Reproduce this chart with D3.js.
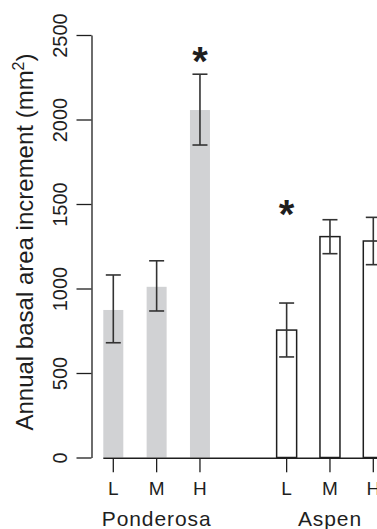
<!DOCTYPE html>
<html>
<head>
<meta charset="utf-8">
<script src="https://cdn.jsdelivr.net/npm/d3@7"></script>
<style>
  html, body { margin: 0; padding: 0; background: #fff; }
  svg { display: block; font-family: "Liberation Sans", Arial, Helvetica, sans-serif; }
</style>
</head>
<body>
<svg id="chart" width="377" height="529"></svg>
<script>
// ---- data ----
const species = ["Ponderosa", "Aspen"];
const levels = ["L", "M", "H"];
const ponderosaMean = [873, 1010, 2056];
const ponderosaLow  = [679, 867, 1849];
const ponderosaHigh = [1080, 1164, 2268];
const aspenMean = [754, 1307, 1281];
const aspenLow  = [595, 1206, 1141];
const aspenHigh = [914, 1407, 1421];
const significant = [[false, false, true], [true, false, false]];
const yTicks = [0, 500, 1000, 1500, 2000, 2500];
const yLabel = "Annual basal area increment (mm";

// ---- build rows ----
const means = [ponderosaMean, aspenMean];
const lows = [ponderosaLow, aspenLow];
const highs = [ponderosaHigh, aspenHigh];
const rows = [];
species.forEach((sp, g) => levels.forEach((lv, k) => {
  rows.push({ sp, g, lv, slot: g * 4 + k, mean: means[g][k], lo: lows[g][k], hi: highs[g][k], sig: significant[g][k] });
}));

const svg = d3.select("#chart");
const x = d3.scaleLinear().domain([0, 6]).range([113.3, 373.3]);
const y = d3.scaleLinear().domain([0, 2500]).range([457.5, 35]);
const barW = 20;
const ink = "#1e1e1e";

// y axis
const yAxis = svg.append("g").attr("transform", "translate(91.5,0)")
  .call(d3.axisLeft(y).tickValues(yTicks).tickSize(15).tickSizeOuter(0).tickFormat(d3.format("d")));
yAxis.select(".domain").attr("stroke", ink).attr("stroke-width", 1.3);
yAxis.selectAll(".tick line").attr("stroke", ink).attr("stroke-width", 1.3);
yAxis.selectAll(".tick text")
  .attr("transform", "rotate(-90)")
  .attr("x", 0).attr("y", -24.5).attr("dy", 0)
  .attr("text-anchor", "middle")
  .attr("font-size", 20).attr("fill", ink);

// y title
const yt = svg.append("text")
  .attr("transform", "translate(33,242) rotate(-90)")
  .attr("text-anchor", "middle")
  .attr("font-size", 24).attr("fill", ink);
yt.append("tspan").text(yLabel);
yt.append("tspan").attr("font-size", 16).attr("dy", -9).text("2");
yt.append("tspan").attr("dy", 9).text(")");

// bars
svg.append("g").selectAll("rect").data(rows).join("rect")
  .attr("x", d => x(d.slot) - barW / 2)
  .attr("y", d => y(d.mean))
  .attr("width", barW)
  .attr("height", d => y(0) - y(d.mean))
  .attr("fill", d => d.g === 0 ? "#d1d2d4" : "#fff")
  .attr("stroke", d => d.g === 0 ? "none" : ink)
  .attr("stroke-width", 1.5);

// x axis baseline
svg.append("line")
  .attr("x1", x(0) - barW / 2).attr("x2", x(6) + barW / 2)
  .attr("y1", y(0) + 0.8).attr("y2", y(0) + 0.8)
  .attr("stroke", ink).attr("stroke-width", 1.4);

// x ticks and labels
const xt = svg.append("g").selectAll("g").data(rows).join("g");
xt.append("line")
  .attr("x1", d => x(d.slot)).attr("x2", d => x(d.slot))
  .attr("y1", y(0) + 0.8).attr("y2", 472.3)
  .attr("stroke", ink).attr("stroke-width", 1.3);
xt.append("text")
  .attr("x", d => x(d.slot)).attr("y", 495)
  .attr("text-anchor", "middle").attr("font-size", 19).attr("fill", ink)
  .text(d => d.lv);

// group labels
svg.append("g").selectAll("text").data(species).join("text")
  .attr("x", (d, g) => x(g * 4 + 1)).attr("y", 526)
  .attr("text-anchor", "middle").attr("font-size", 21).attr("letter-spacing", 0.9)
  .attr("fill", ink).text(d => d);

// error bars
const eb = svg.append("g").attr("stroke", "#333").attr("stroke-width", 1.6);
eb.selectAll(".v").data(rows).join("line")
  .attr("x1", d => x(d.slot)).attr("x2", d => x(d.slot))
  .attr("y1", d => y(d.lo)).attr("y2", d => y(d.hi));
["lo", "hi"].forEach(k => {
  eb.selectAll(".c" + k).data(rows).join("line")
    .attr("x1", d => x(d.slot) - 7.5).attr("x2", d => x(d.slot) + 7.5)
    .attr("y1", d => y(d[k])).attr("y2", d => y(d[k]));
});

// significance asterisks
svg.append("g").selectAll("text").data(rows.filter(d => d.sig)).join("text")
  .attr("x", d => x(d.slot))
  .attr("y", d => d.g === 0 ? 75 : 228)
  .attr("text-anchor", "middle").attr("font-size", 40).attr("font-weight", "bold")
  .attr("fill", ink).text("*");
</script>
</body>
</html>
